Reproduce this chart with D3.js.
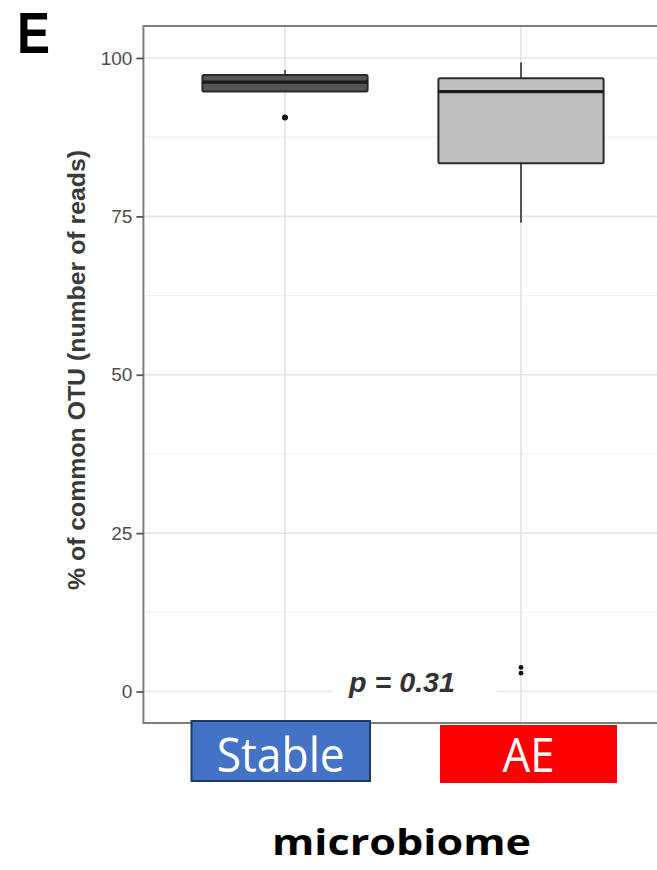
<!DOCTYPE html>
<html>
<head>
<meta charset="utf-8">
<script src="https://cdn.jsdelivr.net/npm/d3@7"></script>
<style>
  html, body { margin: 0; padding: 0; background: #fff; }
  svg { display: block; }
</style>
</head>
<body>
<div id="chart"></div>
<script>
// ---- data ----
const categories = ["Stable", "AE"];
const q1Values      = [94.7, 83.4];
const medianValues  = [96.2, 94.7];
const q3Values      = [97.3, 96.8];
const whiskerLow    = [94.7, 74.0];
const whiskerHigh   = [98.1, 99.3];
const outlierStable = [90.6];
const outlierAE     = [3.8, 2.9];
const yTicks = [0, 25, 50, 75, 100];
const yMinorTicks = [12.5, 37.5, 62.5, 87.5];
const pLabel = "p = 0.31";
const boxFills = ["#555555", "#c0c0c0"];
const labelBoxes = [
  { text: "Stable", fill: "#4472C4", stroke: "#203864" },
  { text: "AE", fill: "#FF0000", stroke: "none" }
];

const W = 657, H = 870;
const panel = { left: 143.4, top: 26, right: 662.6, bottom: 723 };

const svg = d3.select("#chart").append("svg")
  .attr("width", W).attr("height", H);

const y = d3.scaleLinear().domain([-4.97, 105.05]).range([panel.bottom, panel.top]);
const x = d3.scalePoint().domain(categories).range([panel.left, panel.right]).padding(0.6);
const step = x.step();
const boxW = step * 0.7;

const clip = svg.append("clipPath").attr("id", "pclip")
  .append("rect").attr("x", panel.left).attr("y", panel.top)
  .attr("width", panel.right - panel.left).attr("height", panel.bottom - panel.top);

const g = svg.append("g").attr("clip-path", "url(#pclip)");

// panel background
g.append("rect").attr("x", panel.left).attr("y", panel.top)
  .attr("width", panel.right - panel.left).attr("height", panel.bottom - panel.top)
  .attr("fill", "#fff");

// minor grid
g.selectAll(".minor").data(yMinorTicks).enter().append("line")
  .attr("x1", panel.left).attr("x2", panel.right)
  .attr("y1", d => y(d)).attr("y2", d => y(d))
  .attr("stroke", "#f1f1f1").attr("stroke-width", 1.2);
// major grid
g.selectAll(".major").data(yTicks).enter().append("line")
  .attr("x1", panel.left).attr("x2", panel.right)
  .attr("y1", d => y(d)).attr("y2", d => y(d))
  .attr("stroke", "#e6e6e6").attr("stroke-width", 1.6);
// vertical grid
g.selectAll(".vgrid").data(categories).enter().append("line")
  .attr("x1", d => x(d)).attr("x2", d => x(d))
  .attr("y1", panel.top).attr("y2", panel.bottom)
  .attr("stroke", "#e3e3e3").attr("stroke-width", 1.6);

// p-value label background + text
const pCx = 402;
g.append("rect").attr("x", 333).attr("y", y(3.6)).attr("width", 164).attr("height", 40)
  .attr("fill", "#fff");
g.append("text").attr("x", pCx).attr("y", y(0) + 0.5)
  .attr("text-anchor", "middle")
  .attr("font-family", "Liberation Sans, Arial, sans-serif")
  .attr("font-size", 28).attr("font-style", "italic").attr("font-weight", "bold")
  .attr("fill", "#333")
  .attr("textLength", 106).attr("lengthAdjust", "spacingAndGlyphs")
  .text(pLabel);

// boxplots
categories.forEach((c, i) => {
  const cx = x(c);
  // whiskers
  g.append("line").attr("x1", cx).attr("x2", cx)
    .attr("y1", y(q3Values[i])).attr("y2", y(whiskerHigh[i]))
    .attr("stroke", "#444").attr("stroke-width", 1.8);
  g.append("line").attr("x1", cx).attr("x2", cx)
    .attr("y1", y(q1Values[i])).attr("y2", y(whiskerLow[i]))
    .attr("stroke", "#444").attr("stroke-width", 1.8);
  // box
  g.append("rect").attr("x", cx - boxW / 2).attr("y", y(q3Values[i]))
    .attr("width", boxW).attr("height", y(q1Values[i]) - y(q3Values[i]))
    .attr("fill", boxFills[i]).attr("stroke", "#2a2a2a").attr("stroke-width", 2)
    .attr("rx", 1.5);
  // median
  g.append("line").attr("x1", cx - boxW / 2).attr("x2", cx + boxW / 2)
    .attr("y1", y(medianValues[i])).attr("y2", y(medianValues[i]))
    .attr("stroke", "#1a1a1a").attr("stroke-width", 3.2);
});

// outliers
g.selectAll(".outS").data(outlierStable).enter().append("circle")
  .attr("cx", x("Stable")).attr("cy", d => y(d)).attr("r", 3)
  .attr("fill", "#111");
g.selectAll(".outA").data(outlierAE).enter().append("circle")
  .attr("cx", x("AE")).attr("cy", d => y(d)).attr("r", 2.4)
  .attr("fill", "#111");

// panel border (top, left, bottom)
svg.append("path")
  .attr("d", `M${W},${panel.top} H${panel.left} V${panel.bottom} H${W}`)
  .attr("fill", "none").attr("stroke", "#7d7d7d").attr("stroke-width", 2);

// y axis ticks + labels
const yAxis = svg.append("g").attr("transform", `translate(${panel.left},0)`)
  .call(d3.axisLeft(y).tickValues(yTicks).tickSize(7).tickPadding(4).tickFormat(d3.format("d")));
yAxis.select(".domain").remove();
yAxis.selectAll(".tick line").attr("stroke", "#555").attr("stroke-width", 1.8);
yAxis.selectAll(".tick text")
  .attr("font-family", "Liberation Sans, Arial, sans-serif")
  .attr("font-size", 19).attr("fill", "#4d4d4d");

// y axis title
svg.append("text")
  .attr("transform", `translate(85,${(150 + 590) / 2}) rotate(-90)`)
  .attr("text-anchor", "middle")
  .attr("font-family", "Liberation Sans, Arial, sans-serif")
  .attr("font-size", 24).attr("font-weight", "bold").attr("fill", "#3a3a3a")
  .attr("textLength", 440).attr("lengthAdjust", "spacingAndGlyphs")
  .text("% of common OTU (number of reads)");

// category label boxes
const lbl = [
  { x0: 191.5, x1: 370, y0: 721, y1: 781, tw: 128 },
  { x0: 440, x1: 617, y0: 725, y1: 783, tw: 52 }
];
labelBoxes.forEach((b, i) => {
  const L = lbl[i];
  svg.append("rect").attr("x", L.x0).attr("y", L.y0)
    .attr("width", L.x1 - L.x0).attr("height", L.y1 - L.y0)
    .attr("fill", b.fill)
    .attr("stroke", b.stroke).attr("stroke-width", b.stroke === "none" ? 0 : 2);
  svg.append("text").attr("x", (L.x0 + L.x1) / 2).attr("y", 772)
    .attr("text-anchor", "middle")
    .attr("font-family", "Open Sans, Noto Sans, sans-serif")
    .attr("font-size", 48).attr("fill", "#fff")
    .attr("textLength", L.tw).attr("lengthAdjust", "spacingAndGlyphs")
    .text(b.text);
});

// x-axis title
svg.append("text").attr("x", 401.5).attr("y", 855)
  .attr("text-anchor", "middle")
  .attr("font-family", "Open Sans, Noto Sans, sans-serif")
  .attr("font-size", 36).attr("font-weight", "bold").attr("fill", "#000")
  .attr("textLength", 259).attr("lengthAdjust", "spacingAndGlyphs")
  .text("microbiome");

// panel letter
svg.append("text").attr("x", 17).attr("y", 53)
  .attr("font-family", "Liberation Sans, Arial, sans-serif")
  .attr("font-size", 58).attr("font-weight", "bold").attr("fill", "#000")
  .attr("textLength", 33).attr("lengthAdjust", "spacingAndGlyphs")
  .text("E");
</script>
</body>
</html>
